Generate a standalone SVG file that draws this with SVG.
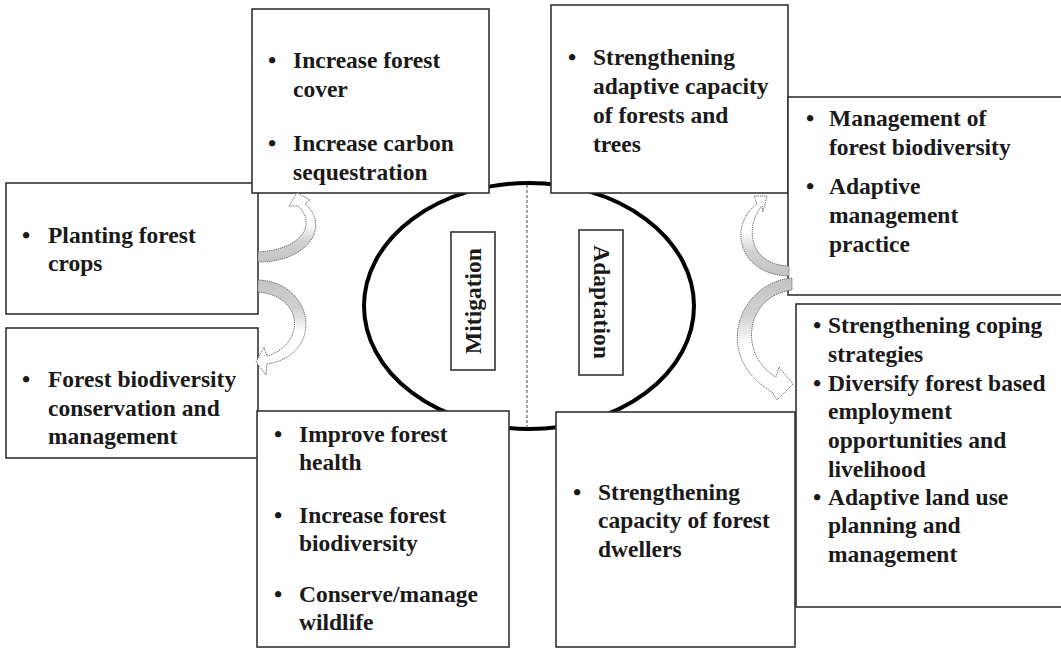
<svg xmlns="http://www.w3.org/2000/svg" width="1061" height="648" viewBox="0 0 1061 648">
<defs>
<style>
.box{fill:#fff;stroke:#333;stroke-width:1.6}
.t{font-family:"Liberation Serif","Times New Roman",serif;font-weight:bold;font-size:23.5px;fill:#1a1a1a}
.lbl{font-family:"Liberation Serif","Times New Roman",serif;font-weight:bold;font-size:23.5px;fill:#1a1a1a;text-anchor:middle}
.arr{stroke:#6a6a6a;stroke-width:1;stroke-dasharray:1.3 0.9}
</style>
<linearGradient id="gUp" x1="0" y1="1" x2="0" y2="0">
<stop offset="0" stop-color="#c4c4c4"/><stop offset="0.3" stop-color="#d0d0d0"/><stop offset="0.55" stop-color="#fff"/><stop offset="1" stop-color="#fff"/>
</linearGradient>
<linearGradient id="gDown" x1="0" y1="0" x2="0" y2="1">
<stop offset="0" stop-color="#c4c4c4"/><stop offset="0.3" stop-color="#d0d0d0"/><stop offset="0.55" stop-color="#fff"/><stop offset="1" stop-color="#fff"/>
</linearGradient>
</defs>
<rect width="1061" height="648" fill="#fff"/>

<g id="center">
<ellipse cx="529" cy="306" rx="165" ry="123" fill="none" stroke="#000" stroke-width="4"/>
<line x1="527" y1="185" x2="527" y2="429" stroke="#444" stroke-width="1" stroke-dasharray="3 2"/>
</g>

<g id="box-planting">
<rect class="box" x="6" y="183" width="252" height="131"/>
<text class="t" x="22" y="243">•</text>
<text class="t" x="48" y="243">Planting forest</text>
<text class="t" x="48" y="271">crops</text>
</g>

<g id="box-cover">
<rect class="box" x="252" y="9" width="237" height="184"/>
<text class="t" x="268" y="68">•</text>
<text class="t" x="293" y="68">Increase forest</text>
<text class="t" x="293" y="97">cover</text>
<text class="t" x="268" y="151">•</text>
<text class="t" x="293" y="151">Increase carbon</text>
<text class="t" x="293" y="180">sequestration</text>
</g>

<g id="box-conservation">
<rect class="box" x="6" y="328" width="252" height="130"/>
<text class="t" x="22" y="387">•</text>
<text class="t" x="48" y="387">Forest biodiversity</text>
<text class="t" x="48" y="416">conservation and</text>
<text class="t" x="48" y="444">management</text>
</g>

<g id="box-health">
<rect class="box" x="257" y="411" width="252" height="236"/>
<text class="t" x="274" y="442">•</text>
<text class="t" x="299" y="442">Improve forest</text>
<text class="t" x="299" y="470">health</text>
<text class="t" x="274" y="523">•</text>
<text class="t" x="299" y="523">Increase forest</text>
<text class="t" x="299" y="551">biodiversity</text>
<text class="t" x="274" y="602">•</text>
<text class="t" x="299" y="602">Conserve/manage</text>
<text class="t" x="299" y="630">wildlife</text>
</g>

<g id="box-adaptive-capacity">
<rect class="box" x="551" y="5" width="237" height="188"/>
<text class="t" x="568" y="65">•</text>
<text class="t" x="593" y="65">Strengthening</text>
<text class="t" x="593" y="94">adaptive capacity</text>
<text class="t" x="593" y="123">of forests and</text>
<text class="t" x="593" y="152">trees</text>
</g>

<g id="box-management">
<rect class="box" x="788" y="97" width="280" height="198"/>
<text class="t" x="806" y="126">•</text>
<text class="t" x="829" y="126">Management of</text>
<text class="t" x="829" y="155">forest biodiversity</text>
<text class="t" x="806" y="194">•</text>
<text class="t" x="829" y="194">Adaptive</text>
<text class="t" x="829" y="223">management</text>
<text class="t" x="829" y="252">practice</text>
</g>

<g id="box-coping">
<rect class="box" x="796" y="304" width="270" height="303"/>
<text class="t" x="813" y="333">•</text>
<text class="t" x="828" y="333">Strengthening coping</text>
<text class="t" x="828" y="362">strategies</text>
<text class="t" x="813" y="391">•</text>
<text class="t" x="828" y="391">Diversify forest based</text>
<text class="t" x="828" y="419">employment</text>
<text class="t" x="828" y="448">opportunities and</text>
<text class="t" x="828" y="477">livelihood</text>
<text class="t" x="813" y="505">•</text>
<text class="t" x="828" y="505">Adaptive land use</text>
<text class="t" x="828" y="533">planning and</text>
<text class="t" x="828" y="562">management</text>
</g>

<g id="box-dwellers">
<rect class="box" x="556" y="412" width="239" height="235"/>
<text class="t" x="573" y="500">•</text>
<text class="t" x="598" y="500">Strengthening</text>
<text class="t" x="598" y="528">capacity of forest</text>
<text class="t" x="598" y="557">dwellers</text>
</g>

<g id="label-mitigation">
<rect class="box" x="451" y="232" width="44" height="138"/>
<text class="lbl" transform="translate(481,301) rotate(-90)">Mitigation</text>
</g>

<g id="label-adaptation">
<rect class="box" x="579" y="230" width="44" height="145"/>
<text class="lbl" transform="translate(594,302) rotate(90)">Adaptation</text>
</g>

<g id="connectors">
<path class="arr" fill="url(#gUp)" d="M258,262 C310,262 330,225 305,204 L310,200 L297,193 L289,206 L298,206 C318,225 300,250 258,252 Z"/>
<path class="arr" fill="url(#gDown)" d="M258,280 C315,282 325,355 267,364 L266,375 L256,362 L264,347 L267,356 C305,345 305,296 258,292 Z"/>
<path class="arr" fill="url(#gUp)" d="M789,276 C738,275 728,225 757,204 L754,196 L767,196 L763,212 L762,206 C745,225 748,265 789,266 Z"/>
<path class="arr" fill="url(#gDown)" d="M792,278 C740,282 710,355 772,392 L777,400 L793,384 L779,367 L776,377 C738,355 745,296 792,290 Z"/>
</g>
</svg>
